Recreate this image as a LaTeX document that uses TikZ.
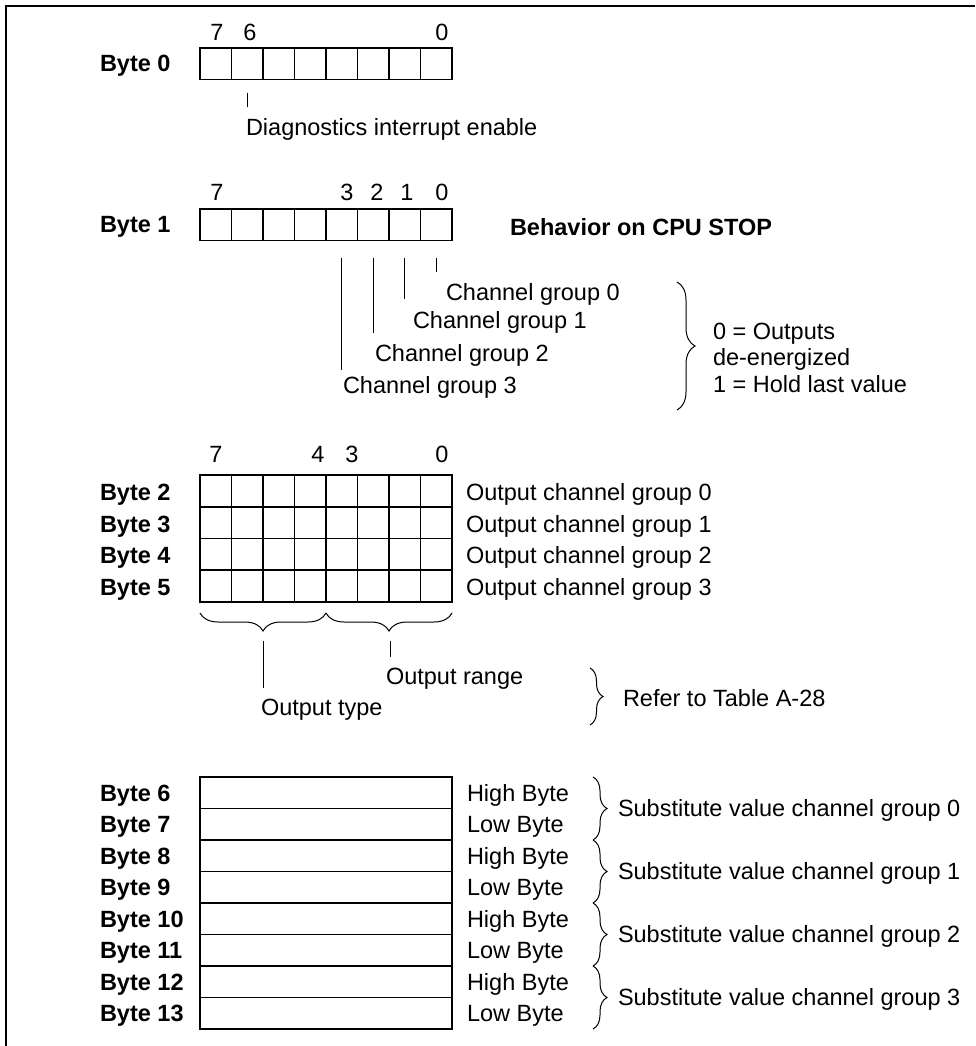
\documentclass[tikz,border=0pt]{standalone}
\usepackage{fontspec}
\setmainfont{Liberation Sans}
\usetikzlibrary{decorations.pathreplacing,calc}
\begin{document}
\begin{tikzpicture}[x=1pt,y=-1pt,
  every node/.style={font=\fontsize{23.5}{28}\selectfont, inner sep=0pt, outer sep=0pt, text height=16.8pt, text depth=0pt},
  lbl/.style={anchor=west, font=\fontsize{23.5}{28}\selectfont\bfseries},
  txt/.style={anchor=west},
  bitnum/.style={anchor=center},
  cell/.style={draw, line width=1.6pt, minimum width=31.5pt, minimum height=31.5pt, anchor=north west},
  gcell/.style={draw, line width=1.6pt, minimum width=31.5pt, minimum height=31.75pt, anchor=north west},
  wcell/.style={draw, line width=1.5pt, minimum width=252pt, minimum height=31.5pt, anchor=north west},
  tick/.style={line width=1pt},
  bracestyle/.style={line width=1pt, decorate, decoration={brace, amplitude=#1}},
  frame/.style={line width=1.5pt}
]
\useasboundingbox (0,0) rectangle (975,1046);
\fill[white] (0,0) rectangle (975,1046);
\draw[frame] (6,1046) -- (6,6) -- (975,6);

% ---------------- Byte 0
\node[lbl] (lb0) at (100,63.5) {Byte 0};
\foreach \i in {0,...,7}{
  \pgfmathtruncatemacro\bit{7-\i}
  \node[cell] (a\bit) at ({200+31.5*\i},48) {};
}
\node[bitnum] (n07) at (217,32) {7};
\node[bitnum] (n06) at (250,32) {6};
\node[bitnum] (n00) at (442,32) {0};
\node[txt] (diag) at (246,127) {Diagnostics interrupt enable};
\draw[tick] ($(a6.south)+(0,14)$) -- ($(a6.south)+(0,28)$);

% ---------------- Byte 1
\node[lbl] (lb1) at (100,224.5) {Byte 1};
\foreach \i in {0,...,7}{
  \pgfmathtruncatemacro\bit{7-\i}
  \node[cell] (b\bit) at ({200+31.5*\i},209) {};
}
\node[bitnum] (n17) at (217,192) {7};
\node[bitnum] (n13) at (347,192) {3};
\node[bitnum] (n12) at (377,192) {2};
\node[bitnum] (n11) at (407,192) {1};
\node[bitnum] (n10) at (442,192) {0};
\node[lbl] (beh) at (510,227) {Behavior on CPU STOP};

\node[txt] (cg0) at (446,292) {Channel group 0};
\node[txt] (cg1) at (413,320) {Channel group 1};
\node[txt] (cg2) at (375,353) {Channel group 2};
\node[txt] (cg3) at (343,385) {Channel group 3};
\draw[tick] ($(b0.south)+(0,17)$) -- ($(b0.south)+(0,31)$);
\draw[tick] ($(b1.south)+(0,17)$) -- ($(b1.south)+(0,58)$);
\draw[tick] ($(b2.south)+(0,17)$) -- ($(b2.south)+(0,92)$);
\draw[tick] ($(b3.south)+(0,17)$) -- ($(b3.south)+(0,129)$);

\coordinate (br1t) at (677,282);
\coordinate (br1b) at (677,410);
\draw[bracestyle=18pt] (br1t) -- (br1b);
\node[txt] (o0) at (713,331) {0 = Outputs};
\node[txt] (o1) at (713,357) {de-energized};
\node[txt] (o2) at (713,384) {1 = Hold last value};

% ---------------- Bytes 2-5
\node[bitnum] (n27) at (216,454) {7};
\node[bitnum] (n24) at (318,454) {4};
\node[bitnum] (n23) at (352,454) {3};
\node[bitnum] (n20) at (442,454) {0};
\foreach \r in {0,...,3}{
  \pgfmathtruncatemacro\bn{\r+2}
  \node[lbl] (lg\r) at (100,{491+31.75*\r+1}) {Byte \bn};
  \node[txt] (og\r) at (466,{491+31.75*\r+1}) {Output channel group \r};
  \foreach \i in {0,...,7}{
    \pgfmathtruncatemacro\bit{7-\i}
    \node[gcell] (g\r-\bit) at ({200+31.5*\i},{475+31.75*\r}) {};
  }
}
\coordinate (gl) at (200,613);
\coordinate (gm) at (326,613);
\coordinate (gr) at (452,613);
\draw[bracestyle=18pt] (gm) -- (gl);
\draw[bracestyle=18pt] (gr) -- (gm);
\node[txt] (orange) at (386,676) {Output range};
\node[txt] (otype) at (261,707) {Output type};
\coordinate (rt) at (390,641);
\coordinate (tt) at (263,641);
\draw[tick] (tt) -- (tt |- 0,688);
\draw[tick] (rt) -- (rt |- 0,657);
\coordinate (br2t) at (590,668);
\coordinate (br2b) at (590,725);
\draw[bracestyle=13pt] (br2t) -- (br2b);
\node[txt] (refer) at (623,698) {Refer to Table A-28};

% ---------------- Bytes 6-13
\foreach \r in {0,...,7}{
  \pgfmathtruncatemacro\bn{\r+6}
  \node[wcell] (w\r) at (200,{777+31.5*\r}) {};
  \node[lbl] (lw\r) at (100,{792.75+31.5*\r}) {Byte \bn};
}
\foreach \r/\t in {0/High Byte,1/Low Byte,2/High Byte,3/Low Byte,4/High Byte,5/Low Byte,6/High Byte,7/Low Byte}{
  \node[txt] (hl\r) at (467,{792.75+31.5*\r}) {\t};
}
\foreach \k in {0,...,3}{
  \coordinate (sb\k t) at (593,{777+63*\k});
  \coordinate (sb\k b) at (593,{840+63*\k});
  \draw[bracestyle=14pt] (sb\k t) -- (sb\k b);
  \node[txt] (sv\k) at (618,{808.5+63*\k}) {Substitute value channel group \k};
}
\end{tikzpicture}
\end{document}
